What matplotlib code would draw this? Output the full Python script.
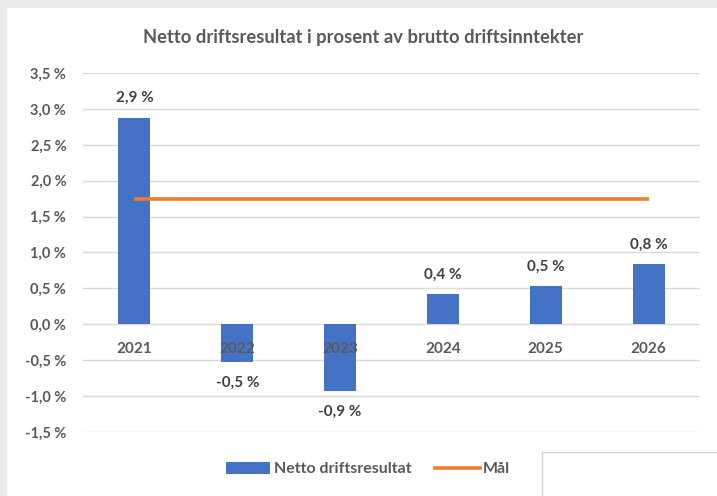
import matplotlib.pyplot as plt
from matplotlib.patches import Rectangle, Patch
from matplotlib.lines import Line2D

years = ['2021', '2022', '2023', '2024', '2025', '2026']
netto = [2.88, -0.53, -0.93, 0.42, 0.53, 0.84]
maal = [1.75, 1.75, 1.75, 1.75, 1.75, 1.75]
y_ticks = [-1.5, -1.0, -0.5, 0.0, 0.5, 1.0, 1.5, 2.0, 2.5, 3.0, 3.5]

W, H = 717, 496
txt = '#595959'
blue = '#4472C4'
orange = '#ED7D31'

plt.rcParams['font.family'] = ['Lato', 'DejaVu Sans']
plt.rcParams['font.weight'] = 'bold'

fig = plt.figure(figsize=(W / 100, H / 100), dpi=100, facecolor='#ebebeb')
# white chart area, grey strips at top and left
fig.patches.append(Rectangle((7 / W, 0), 1 - 7 / W, 1 - 8 / H, transform=fig.transFigure,
                             facecolor='white', edgecolor='none', zorder=-3))
# small box in the bottom right corner
fig.patches.append(Rectangle((542 / W, -0.01), 1 - 542 / W + 0.01, (44 / H) + 0.01, transform=fig.transFigure,
                             facecolor='white', edgecolor='#d0d0d0', lw=1, zorder=-2))

ax = fig.add_axes([83 / W, (H - 432) / H, (700 - 83) / W, (432 - 73) / H])
ax.set_facecolor('none')
x = range(len(years))
ax.bar(x, netto, width=0.31, color=blue, zorder=2)
ax.plot(x, maal, color=orange, lw=2.6, zorder=3, solid_capstyle='butt')

ax.set_xlim(-0.5, len(years) - 0.5)
ax.set_ylim(-1.5, 3.5)
ax.set_yticks(y_ticks)
ax.set_yticklabels(['{:.1f} %'.format(v).replace('.', ',') for v in y_ticks], color=txt, fontsize=10.5, fontweight='bold')
ax.tick_params(axis='y', length=0, pad=12)
ax.set_xticks([])
ax.grid(axis='y', color='#d9d9d9', lw=1, zorder=0)
ax.set_axisbelow(True)
for s in ax.spines.values():
    s.set_visible(False)

for i, (year, v) in enumerate(zip(years, netto)):
    ax.annotate(year, xy=(i, 0), xytext=(0, -18), textcoords='offset points', ha='center', va='center',
                color=txt, fontsize=11, fontweight='bold', zorder=4)
    off = 14 if v >= 0 else -15
    ax.annotate('{:.1f} %'.format(v).replace('.', ','), xy=(i, v), xytext=(0, off), textcoords='offset points',
                ha='center', va='center', color='#404040', fontsize=11, fontweight='bold')

fig.text((143 + 583) / 2 / W, 1 - 37 / H, 'Netto driftsresultat i prosent av brutto driftsinntekter',
         ha='center', va='center', color=txt, fontsize=13.2, fontweight='bold')

handles = [Patch(facecolor=blue, edgecolor='none'), Line2D([0], [0], color=orange, lw=2.6)]
leg = fig.legend(handles, ['Netto driftsresultat', 'Mål'], loc='center', bbox_to_anchor=(368 / W, 1 - 469 / H),
                 ncol=2, frameon=False, fontsize=11.5, handlelength=2.8, handletextpad=0.2, columnspacing=1.5,
                 handleheight=0.8)
for t in leg.get_texts():
    t.set_color(txt)
    t.set_fontweight('bold')

fig.savefig('out.png', dpi=100, facecolor=fig.get_facecolor())
